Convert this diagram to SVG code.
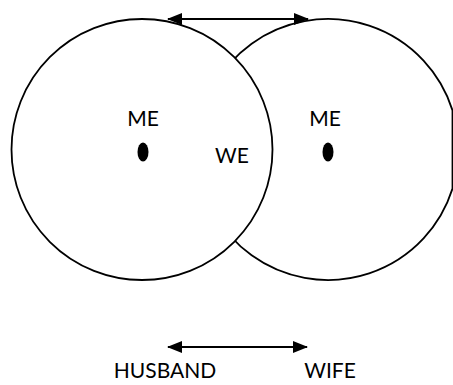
<svg xmlns="http://www.w3.org/2000/svg" width="453" height="385" viewBox="0 0 453 385">
  <style>
    .circ { fill: #ffffff; stroke: #000000; stroke-width: 1.8; }
    .dot { fill: #000000; }
    .lbl { font-family: Lato, "Open Sans", "Liberation Sans", sans-serif; font-size: 21px; fill: #000000; text-anchor: middle; }
    .arr { stroke: #000000; stroke-width: 2; fill: none; marker-start: url(#ah); marker-end: url(#ah); }
  </style>
  <defs>
    <marker id="ah" viewBox="0 0 15 12" refX="14" refY="6" markerWidth="15" markerHeight="12" markerUnits="userSpaceOnUse" orient="auto-start-reverse">
      <path d="M0,0 L15,6 L0,12 Z" fill="#000000"/>
    </marker>
  </defs>
  <rect width="453" height="385" fill="#ffffff"/>
  <g id="right-circle">
    <path class="circ" d="M452.5,110.4 A130.5,130.5 0 1 0 452.5,188.6 Z"/>
  </g>
  <g id="left-circle">
    <circle class="circ" cx="142" cy="149.5" r="130.5"/>
  </g>
  <g id="left-me">
    <text class="lbl" x="143" y="126">ME</text>
    <ellipse class="dot" cx="143" cy="152" rx="5.5" ry="9.5"/>
  </g>
  <g id="we">
    <text class="lbl" x="232" y="163">WE</text>
  </g>
  <g id="right-me">
    <text class="lbl" x="325" y="126">ME</text>
    <ellipse class="dot" cx="328" cy="152" rx="5.5" ry="9.5"/>
  </g>
  <g id="husband">
    <text class="lbl" x="165" y="378">HUSBAND</text>
  </g>
  <g id="wife">
    <text class="lbl" x="330" y="378">WIFE</text>
  </g>
  <g id="connectors">
    <line class="arr" x1="168" y1="19" x2="308" y2="19"/>
    <line class="arr" x1="168" y1="347" x2="307" y2="347"/>
  </g>
</svg>
